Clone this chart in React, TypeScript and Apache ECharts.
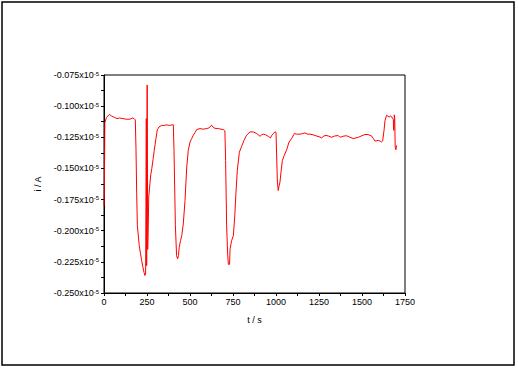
import React, { useEffect, useRef } from "react";
import * as echarts from "echarts";

const timeS: number[] = [
  0, 2, 5, 15, 31, 45, 60, 75, 90, 110, 130, 150, 165, 175, 182, 186, 190, 194, 205, 212,
  219, 226, 233, 238, 242, 246, 248, 251, 254, 257, 260, 267, 272, 278, 285, 292, 297, 302, 310, 320,
  335, 350, 365, 380, 395, 403, 407, 415, 422, 428, 433, 437, 445, 452, 461, 471, 481, 490, 500, 510,
  519, 530, 539, 558, 575, 597, 610, 626, 635, 645, 665, 680, 694, 703, 707, 713, 719, 723, 730, 733,
  742, 752, 761, 767, 775, 787, 800, 814, 829, 849, 868, 888, 907, 917, 926, 940, 955, 968, 975, 984,
  995, 1000, 1008, 1013, 1018, 1023, 1029, 1037, 1048, 1062, 1076, 1091, 1107, 1120, 1140, 1155, 1168, 1183, 1198, 1215,
  1236, 1250, 1265, 1278, 1291, 1305, 1324, 1340, 1362, 1372, 1382, 1395, 1411, 1430, 1449, 1465, 1478, 1495, 1517, 1535,
  1556, 1566, 1575, 1585, 1595, 1605, 1614, 1620, 1628, 1634, 1643, 1650, 1658, 1665, 1672, 1678, 1682, 1684, 1686, 1688,
  1690, 1693, 1697, 1701,
];

const currentA: number[] = [
  -0.180, -0.168, -0.113, -0.109, -0.1067, -0.108, -0.109, -0.110, -0.1095, -0.110, -0.1105, -0.1105, -0.1095, -0.110, -0.111, -0.134, -0.170, -0.196, -0.212, -0.218,
  -0.224, -0.229, -0.2336, -0.236, -0.234, -0.110, -0.228, -0.083, -0.215, -0.198, -0.173, -0.162, -0.155, -0.150, -0.143, -0.1355, -0.131, -0.126, -0.119, -0.1167,
  -0.1155, -0.1155, -0.115, -0.1155, -0.115, -0.115, -0.1355, -0.196, -0.220, -0.2226, -0.220, -0.2135, -0.208, -0.204, -0.1945, -0.1758, -0.149, -0.1355, -0.1288, -0.126,
  -0.1234, -0.121, -0.1188, -0.118, -0.1185, -0.118, -0.1175, -0.1153, -0.117, -0.1178, -0.118, -0.1185, -0.1188, -0.120, -0.1436, -0.196, -0.2188, -0.227, -0.227, -0.2145,
  -0.208, -0.204, -0.1865, -0.170, -0.1516, -0.137, -0.1323, -0.1274, -0.1234, -0.1207, -0.1207, -0.122, -0.1242, -0.123, -0.1225, -0.123, -0.1242, -0.1255, -0.1235, -0.122,
  -0.1207, -0.121, -0.161, -0.1677, -0.164, -0.161, -0.153, -0.1436, -0.1395, -0.135, -0.1288, -0.126, -0.122, -0.1225, -0.1225, -0.122, -0.1215, -0.1225, -0.1225, -0.123,
  -0.124, -0.1245, -0.1255, -0.124, -0.1235, -0.124, -0.125, -0.124, -0.1236, -0.125, -0.1245, -0.124, -0.1238, -0.125, -0.126, -0.1255, -0.125, -0.124, -0.1228, -0.1228,
  -0.124, -0.126, -0.128, -0.1278, -0.1275, -0.128, -0.1288, -0.128, -0.1194, -0.1113, -0.1073, -0.108, -0.1088, -0.108, -0.1085, -0.110, -0.1107, -0.1194, -0.1185, -0.107,
  -0.109, -0.1328, -0.135, -0.1315,
];

const yMin = -0.25;
const yMax = -0.075;
const yStep = 0.025;
const xMin = 0;
const xMax = 1750;
const xStep = 250;

export default function App() {
  const ref = useRef<HTMLDivElement>(null);
  useEffect(() => {
    if (!ref.current) return;
    const chart = echarts.init(ref.current, null, { renderer: "svg" });
    const font = "'Liberation Sans', Arial, sans-serif";
    const data = timeS.map((t, i) => [t, currentA[i]]);
    chart.setOption({
      animation: false,
      backgroundColor: "#ffffff",
      textStyle: { fontFamily: font },
      grid: {
        left: 104,
        top: 75,
        right: 113,
        bottom: 77,
        show: true,
        borderColor: "#000",
        borderWidth: 1,
        backgroundColor: "transparent",
      },
      graphic: [
        {
          type: "rect",
          shape: { x: 2, y: 2, width: 512, height: 363 },
          style: { fill: "none", stroke: "#000", lineWidth: 1.5 },
          silent: true,
        },
      ],
      xAxis: {
        type: "value",
        min: xMin,
        max: xMax,
        interval: xStep,
        name: "t / s",
        nameLocation: "middle",
        nameGap: 22,
        nameTextStyle: { color: "#000", fontSize: 9, fontFamily: font },
        axisLine: { show: true, onZero: false, lineStyle: { color: "#000", width: 1 } },
        axisTick: { show: true, inside: false, length: 3, lineStyle: { color: "#000" } },
        minorTick: { show: true, splitNumber: 2, length: 3, lineStyle: { color: "#000" } },
        splitLine: { show: false },
        axisLabel: {
          color: "#000",
          fontSize: 9,
          margin: 4,
          fontFamily: font,
          formatter: (v: number) => String(v),
        },
      },
      yAxis: {
        type: "value",
        min: yMin,
        max: yMax,
        interval: yStep,
        name: "i / A",
        nameLocation: "middle",
        nameGap: 62,
        nameTextStyle: { color: "#000", fontSize: 9, fontFamily: font },
        axisLine: { show: true, onZero: false, lineStyle: { color: "#000", width: 1 } },
        axisTick: { show: true, inside: false, length: 3, lineStyle: { color: "#000" } },
        minorTick: { show: true, splitNumber: 2, length: 3, lineStyle: { color: "#000" } },
        splitLine: { show: false },
        axisLabel: {
          color: "#000",
          margin: 5,
          fontFamily: font,
          formatter: (v: number) => `{a|${v.toFixed(3)}x10}{b|-5}`,
          rich: {
            a: { fontSize: 9, color: "#000", fontFamily: font },
            b: { fontSize: 6, color: "#000", fontFamily: font, verticalAlign: "top" },
          },
        },
      },
      series: [
        {
          type: "line",
          data,
          showSymbol: false,
          symbol: "none",
          lineStyle: { color: "#ff0000", width: 1 },
        },
      ],
    });
    return () => chart.dispose();
  }, []);
  return (
    <div
      ref={ref}
      style={{ position: "fixed", left: 0, top: 0, width: 518, height: 370 }}
    />
  );
}
